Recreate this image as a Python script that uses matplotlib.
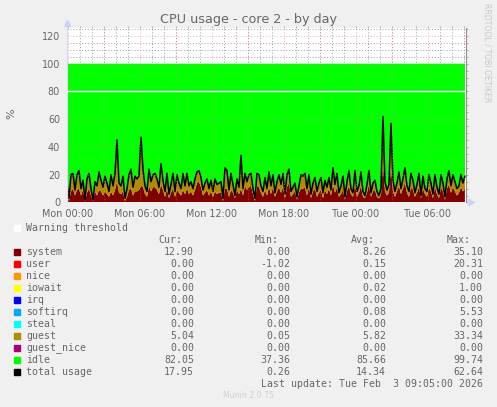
import matplotlib
matplotlib.use('Agg')
import matplotlib.pyplot as plt
import numpy as np

# Data (one value every 10 minutes)
total = [14,3,20,21,9,20,23,10,16,2,17,21,10,2,15,12,22,16,11,19,
         14,8,20,12,21,45,14,12,19,3,10,20,24,11,19,17,19,47,24,12,
         8,24,15,20,21,17,11,28,16,8,21,6,13,21,8,20,14,10,21,12,
         21,12,15,10,17,22,23,18,9,14,17,10,16,8,17,13,14,15,3,25,
         23,9,21,13,5,17,11,34,10,21,15,20,21,10,3,21,20,12,8,18,
         10,22,12,20,7,15,20,13,21,6,20,24,8,11,14,4,12,20,19,21,
         10,20,6,14,18,8,14,18,7,16,11,18,9,25,13,21,7,12,19,4,
         15,23,10,7,23,8,12,22,8,5,13,23,7,14,16,8,5,10,62,15,
         9,13,57,16,8,14,22,10,17,25,12,8,21,16,7,13,21,5,19,10,
         8,20,14,6,20,11,6,20,14,4,17,23,12,20,15,10,12,20,14,19]
system = [8,1,8,10,5,9,10,5,9,1,7,10,5,1,8,5,9,8,5,8,
          6,4,8,5,9,15,7,6,8,1,4,9,10,5,8,8,9,12,11,6,
          4,12,8,11,11,9,6,13,9,4,10,3,7,10,4,9,7,5,9,6,
          10,6,8,5,9,14,15,11,5,7,9,5,8,4,8,6,7,7,1,10,
          10,4,9,7,3,9,6,10,5,12,9,11,12,6,1,12,11,7,4,9,
          5,11,6,11,4,8,11,7,11,3,11,14,4,6,8,2,7,10,10,11,
          5,11,3,8,10,4,7,9,3,9,6,10,5,13,7,11,4,6,9,2,
          8,12,6,4,13,4,7,12,4,3,7,13,4,8,9,4,3,5,29,8,
          5,7,26,8,4,8,12,6,10,14,7,4,11,9,4,7,11,3,10,6,
          4,11,8,3,11,6,3,11,8,2,10,13,7,11,8,5,7,11,8,10]
guest = [6,2,12,11,4,11,13,5,7,1,10,11,5,1,7,7,13,8,6,11,
         8,4,12,7,12,30,7,6,11,2,6,11,14,6,11,9,10,33,13,6,
         4,12,7,9,10,8,5,15,7,4,11,3,6,11,4,11,7,5,12,6,
         11,6,7,5,8,8,8,7,4,7,8,5,8,4,9,7,7,8,2,15,
         13,5,12,6,2,8,5,24,5,9,6,9,9,4,2,9,9,5,4,9,
         5,11,6,9,3,7,9,6,10,3,9,10,4,5,6,2,5,10,9,10,
         5,9,3,6,8,4,7,9,4,7,5,8,4,12,6,10,3,6,10,2,
         7,11,4,3,10,4,5,10,4,2,6,10,3,6,7,4,2,5,33,7,
         4,6,31,8,4,6,10,4,7,11,5,4,10,7,3,6,10,2,9,4,
         4,9,6,3,9,5,3,9,6,2,7,10,5,9,7,5,5,9,6,9]
warning = 80

names = ['system', 'user', 'nice', 'iowait', 'irq', 'softirq', 'steal', 'guest', 'guest_nice', 'idle', 'total usage']
colors = ['#800000', '#ff0000', '#ff9900', '#ffff00', '#0000ff', '#00aaff', '#00ffff', '#ae8e00', '#aa0077', '#00ff00', '#000000']
cur = ['12.90', '0.00', '0.00', '0.00', '0.00', '0.00', '0.00', '5.04', '0.00', '82.05', '17.95']
mins = ['0.00', '-1.02', '0.00', '0.00', '0.00', '0.00', '0.00', '0.05', '0.00', '37.36', '0.26']
avgs = ['8.26', '0.15', '0.00', '0.02', '0.00', '0.08', '0.00', '5.82', '0.00', '85.66', '14.34']
maxs = ['35.10', '20.31', '0.00', '1.00', '0.00', '5.53', '0.00', '33.34', '0.00', '99.74', '62.64']
time_ticks = [0, 6, 12, 18, 24, 30]
time_labels = ['Mon 00:00', 'Mon 06:00', 'Mon 12:00', 'Mon 18:00', 'Tue 00:00', 'Tue 06:00']

W, H = 497, 407
BG = '#f0f0f0'
TXT = '#666666'
MONO = 'DejaVu Sans Mono'

fig = plt.figure(figsize=(W / 100, H / 100), dpi=100, facecolor=BG)
ax = fig.add_axes([67 / W, 1 - 202.5 / H, 399 / W, 174.5 / H])

hours = -1 / 12 + np.arange(len(total)) / 6
total = np.array(total, dtype=float)
idle = 100 - np.array(system) - np.array(guest)

ax.stackplot(hours, system, guest, idle, colors=[colors[0], colors[7], colors[9]], linewidth=0)
ax.plot(hours, total, color='black', lw=1.1)
ax.axhline(warning, color='white', lw=1, zorder=5)

ax.set_xlim(-1 / 12, 33.17)
ax.set_ylim(0, 125.7)
ax.set_facecolor('white')

ax.set_xticks(time_ticks, time_labels)
ax.set_xticks(np.arange(0, 34, 1), minor=True)
ax.set_yticks(np.arange(0, 121, 20))
ax.set_yticks(np.arange(0, 126, 5), minor=True)
ax.tick_params(which='both', length=1.5, color='#a8a8a8', width=0.6, labelsize=6.9, labelcolor=TXT,
               left=False, bottom=False, right=True, top=True)
ax.tick_params(axis='x', pad=3.5)
ax.tick_params(axis='y', pad=3.5)

# rrdtool style grid, pink every 3 h / 20 %, grey below that
ax.set_axisbelow(True)
ax.grid(which='minor', color='#a0a0a0', lw=0.7, ls=(0, (1, 2)))
for h in np.arange(0, 34, 3):
    ax.axvline(h, color='#f07070', lw=0.7, ls=(0, (1, 2)), zorder=4, alpha=0.55)
for v in np.arange(0, 121, 20):
    if v != warning:
        ax.axhline(v, color='#f07070', lw=0.7, ls=(0, (1, 2)), zorder=4, alpha=0.55)

for side in ['top', 'bottom']:
    ax.spines[side].set_visible(False)
ax.spines['left'].set_color('#d5dcf5')
ax.spines['right'].set_color('#909090')

ax.plot([0], [1.03], '^', color='#ccd4f5', ms=5, transform=ax.transAxes, clip_on=False)
ax.plot([1.012], [0], '>', color='#ccd4f5', ms=5, transform=ax.transAxes, clip_on=False)


def put(px, py, s, **kw):
    kw.setdefault('color', TXT)
    kw.setdefault('va', 'center')
    fig.text(px / W, 1 - py / H, s, **kw)


put(249, 19, 'CPU usage - core 2 - by day', fontsize=9.2, ha='center')
put(11, 114, '%', fontsize=8, rotation=90, ha='center')
put(487, 53, 'RRDTOOL / TOBI OETIKER', fontsize=5.6, rotation=270, ha='center', color='#c8c8c8')
put(248, 396, 'Munin 2.0.75', fontsize=5.6, ha='center', color='#d0d0d0')

# legend table
row = 12
top = 252
put(26, 228, 'Warning threshold', family=MONO, fontsize=7.1)
fig.patches.append(plt.Rectangle((14 / W, 1 - 231 / H), 6 / W, 6 / H, color='white', transform=fig.transFigure))
for px, s in zip([158, 255, 351, 447], ['Cur:', 'Min:', 'Avg:', 'Max:']):
    put(px, 240, s, family=MONO, fontsize=7.1)
for i, name in enumerate(names):
    y = top + i * row
    fig.patches.append(plt.Rectangle((14 / W, 1 - (y + 3) / H), 6 / W, 6 / H, color=colors[i], transform=fig.transFigure))
    put(26, y, name, family=MONO, fontsize=7.1)
    put(194, y, cur[i], family=MONO, fontsize=7.1, ha='right')
    put(290, y, mins[i], family=MONO, fontsize=7.1, ha='right')
    put(386, y, avgs[i], family=MONO, fontsize=7.1, ha='right')
    put(483, y, maxs[i], family=MONO, fontsize=7.1, ha='right')
put(483, 384, 'Last update: Tue Feb  3 09:05:00 2026', family=MONO, fontsize=7.1, ha='right')

fig.savefig('out.png', dpi=100, facecolor=BG)
